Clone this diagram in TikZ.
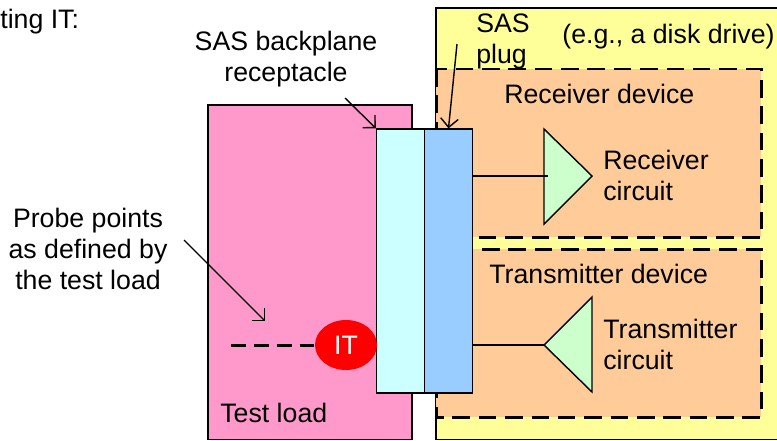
\documentclass[tikz,border=0pt]{standalone}
\usepackage{fontspec}
\setmainfont{Liberation Sans}
\usetikzlibrary{arrows.meta, shapes.geometric}

\definecolor{loadpink}{HTML}{FF99CC}
\definecolor{driveyellow}{HTML}{FFFF99}
\definecolor{deviceorange}{HTML}{FFCC99}
\definecolor{receptcyan}{HTML}{CCFFFF}
\definecolor{plugblue}{HTML}{99CCFF}
\definecolor{circuitgreen}{HTML}{CCFFCC}

\tikzset{
    box/.style={draw=black, line width=0.8pt},
    devicebox/.style={draw=black, fill=deviceorange, line width=1.7pt, dash pattern=on 10pt off 5pt},
    label/.style={font=\fontsize{15.2}{17.6}\selectfont, inner sep=0pt, text=black},
    callout/.style={line width=0.8pt, -{Straight Barb[length=5pt,width=10pt]}},
    link/.style={line width=0.8pt}
}

\begin{document}
\begin{tikzpicture}[x=0.02cm, y=-0.02cm]
    \useasboundingbox (0,0) rectangle (777,440);
    \clip (0,0) rectangle (777,440);

    % drive and test load
    \draw[box, fill=driveyellow] (436,8) rectangle (790,439.5);
    \draw[box, fill=loadpink] (208,105) rectangle (412,439.5);

    % dashed device areas
    \foreach \y in {69, 249}
        \draw[devicebox] (436,\y) rectangle (761,\y+168);

    % connector halves
    \node[box, fill=receptcyan, minimum width=0.96cm, minimum height=5.28cm, inner sep=0pt] (receptacle) at (400.5,261) {};
    \node[box, fill=plugblue, minimum width=0.96cm, minimum height=5.28cm, inner sep=0pt] (plug) at (448.5,261) {};

    % receiver and transmitter triangles
    \coordinate (rxin) at (548,176);
    \coordinate (txout) at (544,345);
    \draw[box, fill=circuitgreen] (544,129) -- (592,176) -- (544,224) -- cycle;
    \draw[box, fill=circuitgreen] (592,297) -- (544,345) -- (592,392) -- cycle;
    \draw[link] (plug.east |- rxin) -- (rxin);
    \draw[link] (plug.east |- txout) -- (txout);

    % IT point and its dashed probe line
    \node[fill=red, ellipse, minimum width=1.24cm, minimum height=1cm, inner sep=0pt,
          font=\fontsize{15.2}{17}\selectfont, text=white] (it) at (346,345) {IT};
    \coordinate (probeend) at (231,345);
    \draw[line width=1.7pt, dash pattern=on 8.5pt off 4.5pt] (probeend) -- (it);

    % texts
    \node[label, anchor=base west] (intro) at (0,28) {ting IT:};
    \node[label, align=center, anchor=base] (recepttext) at (286,81) {SAS backplane\\receptacle};
    \node[label, align=left, anchor=base west] (plugtext) at (476,63) {SAS\\plug};
    \node[label, anchor=base west] (egtext) at (562,43) {(e.g., a disk drive)};
    \node[label, anchor=base west] (rxtext) at (504,103) {Receiver device};
    \node[label, align=left, anchor=base west] (rxcircuit) at (603,200) {Receiver\\circuit};
    \node[label, anchor=base west] (txtext) at (489,283) {Transmitter device};
    \node[label, align=left, anchor=base west] (txcircuit) at (603,369) {Transmitter\\circuit};
    \node[label, align=center, anchor=base] (probetext) at (88,289) {Probe points\\as defined by\\the test load};
    \node[label, anchor=base west] (loadtext) at (220,422) {Test load};

    % callout arrows
    \coordinate (probefrom) at (184,240);
    \coordinate (probeto) at (265,321);
    \coordinate (receptfrom) at (345,98);
    \coordinate (plugfrom) at (457,44);
    \draw[callout] (probefrom) -- (probeto);
    \draw[callout] (receptfrom) -- (receptacle.north west);
    \draw[callout] (plugfrom) -- (plug.north);
\end{tikzpicture}
\end{document}
